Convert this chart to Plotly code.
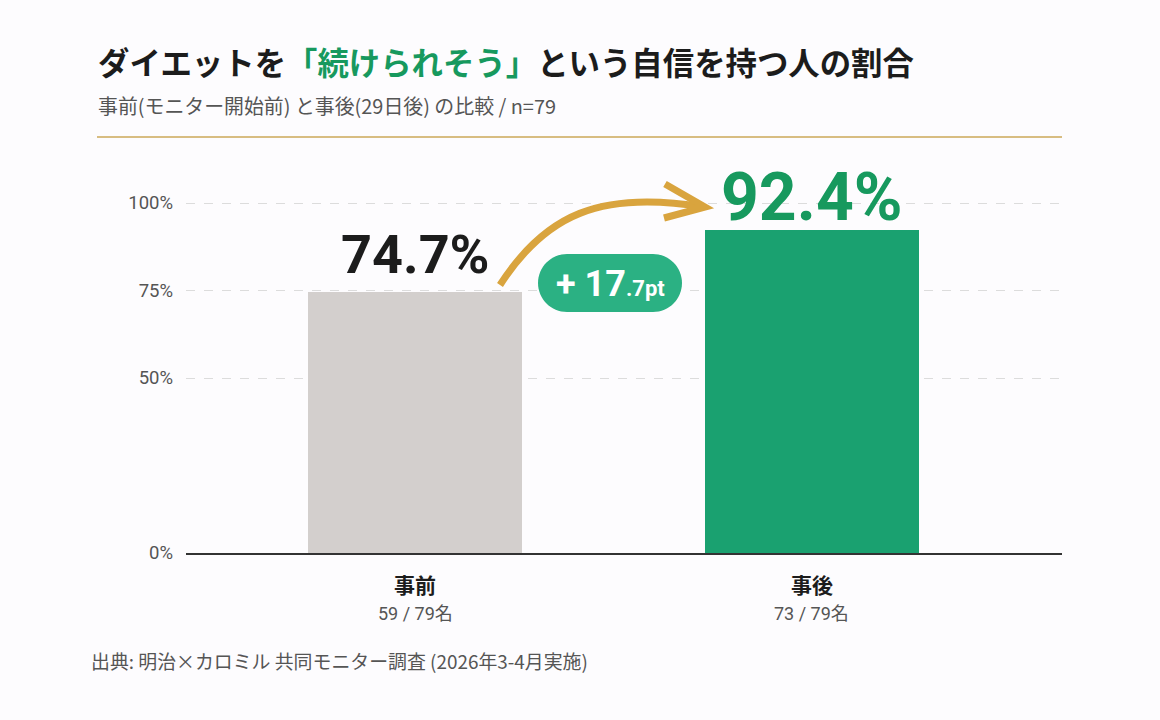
import plotly.graph_objects as go

# ---- data ----
categories = ["事前", "事後"]
values = [74.7, 92.4]
counts = [59, 73]
n_total = 79
ytick_vals = [0, 50, 75, 100]
ytick_text = ["0%", "50%", "75%", "100%"]

title_pre = "ダイエットを"
title_hl = "「続けられそう」"
title_post = "という自信を持つ人の割合"
subtitle = "事前(モニター開始前) と事後(29日後) の比較 / n=79"
source = "出典: 明治×カロミル 共同モニター調査 (2026年3-4月実施)"

# ---- layout geometry (pixels) ----
W, H = 1160, 720
ML, MR, MT, MB = 186, 98, 168, 167
PW, PH = W - ML - MR, H - MT - MB

def P(x, y):
    return ((x - ML) / PW, (H - MB - y) / PH)

def path(cmds):
    out = []
    for c in cmds:
        if isinstance(c, str):
            out.append(c)
        else:
            px_, py_ = P(*c)
            out.append(f"{px_:.5f},{py_:.5f}")
    return " ".join(out)

GREEN = "#1aa170"
GREEN_TXT = "#17995e"
GRAY_BAR = "#d3cfcd"
GOLD = "#d9a43e"
BG = "#fdfcfe"
FONT = "Roboto, Noto Sans CJK JP, sans-serif"
JFONT = "Noto Sans CJK JP, Roboto, sans-serif"

xs = list(range(len(categories)))
fig = go.Figure()
fig.add_trace(go.Bar(
    x=xs, y=values, width=0.54,
    marker=dict(color=[GRAY_BAR, GREEN], line=dict(width=0)),
    hoverinfo="skip",
))

annotations = []
# value labels
label_styles = [dict(color="#1c1c1c", size=54, shift=4), dict(color=GREEN_TXT, size=66, shift=-8)]
for i, v in enumerate(values):
    st = label_styles[i]
    annotations.append(dict(
        x=xs[i], y=v, xref="x", yref="y", text=f"<b>{v:.1f}%</b>",
        showarrow=False, yanchor="bottom", yshift=st["shift"],
        font=dict(family=FONT, size=st["size"], color=st["color"]),
    ))
    # category labels
    annotations.append(dict(
        x=xs[i], y=0, xref="x", yref="y", text=f"<b>{categories[i]}</b>",
        showarrow=False, yanchor="middle", yshift=-31,
        font=dict(family=JFONT, size=21, color="#1c1c1c"),
    ))
    annotations.append(dict(
        x=xs[i], y=0, xref="x", yref="y", text=f"{counts[i]} / {n_total}名",
        showarrow=False, yanchor="middle", yshift=-60,
        font=dict(family=FONT, size=18, color="#555555"),
    ))

# difference badge text
diff = values[1] - values[0]
d_int, d_dec = f"{diff:.1f}".split(".")
bx, by = P(610, 284)
annotations.append(dict(
    x=bx, y=by, xref="paper", yref="paper", showarrow=False,
    text=f"<b>+ {d_int}<span style='font-size:22px'>.{d_dec}pt</span></b>",
    font=dict(family=FONT, size=36, color="white"), yanchor="middle",
))

# title, subtitle, source
tx, ty = P(96, 62)
annotations.append(dict(
    x=tx, y=ty, xref="paper", yref="paper", xanchor="left", yanchor="middle",
    showarrow=False,
    text=f"<b>{title_pre}<span style='color:{GREEN_TXT}'>{title_hl}</span>{title_post}</b>",
    font=dict(family=JFONT, size=31.4, color="#1c1c1c"),
))
sx, sy = P(96, 105)
annotations.append(dict(
    x=sx, y=sy, xref="paper", yref="paper", xanchor="left", yanchor="middle",
    showarrow=False, text=subtitle,
    font=dict(family=JFONT, size=19.9, color="#555555"),
))
cx, cy = P(89, 660)
annotations.append(dict(
    x=cx, y=cy, xref="paper", yref="paper", xanchor="left", yanchor="middle",
    showarrow=False, text=source,
    font=dict(family=JFONT, size=18.9, color="#555555"),
))

shapes = []
# gold rule under header
x0, y0 = P(97, 137)
x1, _ = P(1062, 137)
shapes.append(dict(type="line", xref="paper", yref="paper", x0=x0, x1=x1, y0=y0, y1=y0,
                   line=dict(color="#d8bd82", width=2)))
# pill badge
k = 16
pill = path(["M", (567, 254), "L", (653, 254),
             "C", (653 + k, 254), (682, 283 - k), (682, 283),
             "C", (682, 283 + k), (653 + k, 312), (653, 312),
             "L", (567, 312),
             "C", (567 - k, 312), (538, 283 + k), (538, 283),
             "C", (538, 283 - k), (567 - k, 254), (567, 254), "Z"])
shapes.append(dict(type="path", xref="paper", yref="paper", path=pill,
                   fillcolor="#2bb183", line=dict(width=0), layer="above"))
# curved arrow
arc = path(["M", (500, 285), "C", (545, 215), (600, 190), (703, 207)])
shapes.append(dict(type="path", xref="paper", yref="paper", path=arc,
                   line=dict(color=GOLD, width=7), layer="above"))
head = path(["M", (665, 184), "L", (705, 207), "L", (664, 218)])
shapes.append(dict(type="path", xref="paper", yref="paper", path=head,
                   line=dict(color=GOLD, width=7), layer="above"))

fig.update_layout(
    width=W, height=H,
    margin=dict(l=ML, r=MR, t=MT, b=MB),
    paper_bgcolor=BG, plot_bgcolor=BG,
    showlegend=False,
    font=dict(family=FONT),
    annotations=annotations,
    shapes=shapes,
    bargap=0,
)
fig.update_xaxes(
    range=[-0.577, 1.63], showticklabels=False, showgrid=False, zeroline=False,
    showline=True, linecolor="#333333", linewidth=2, ticks="", fixedrange=True,
)
fig.update_yaxes(
    range=[0, 110], tickvals=ytick_vals, ticktext=ytick_text,
    showgrid=True, gridcolor="#dcdcdc", griddash="dash", gridwidth=1,
    zeroline=False, showline=False, ticks="", ticklabelstandoff=12,
    tickfont=dict(family=FONT, size=18.5, color="#555555"), fixedrange=True,
)

fig.write_html("out.html", config={"displayModeBar": False})
